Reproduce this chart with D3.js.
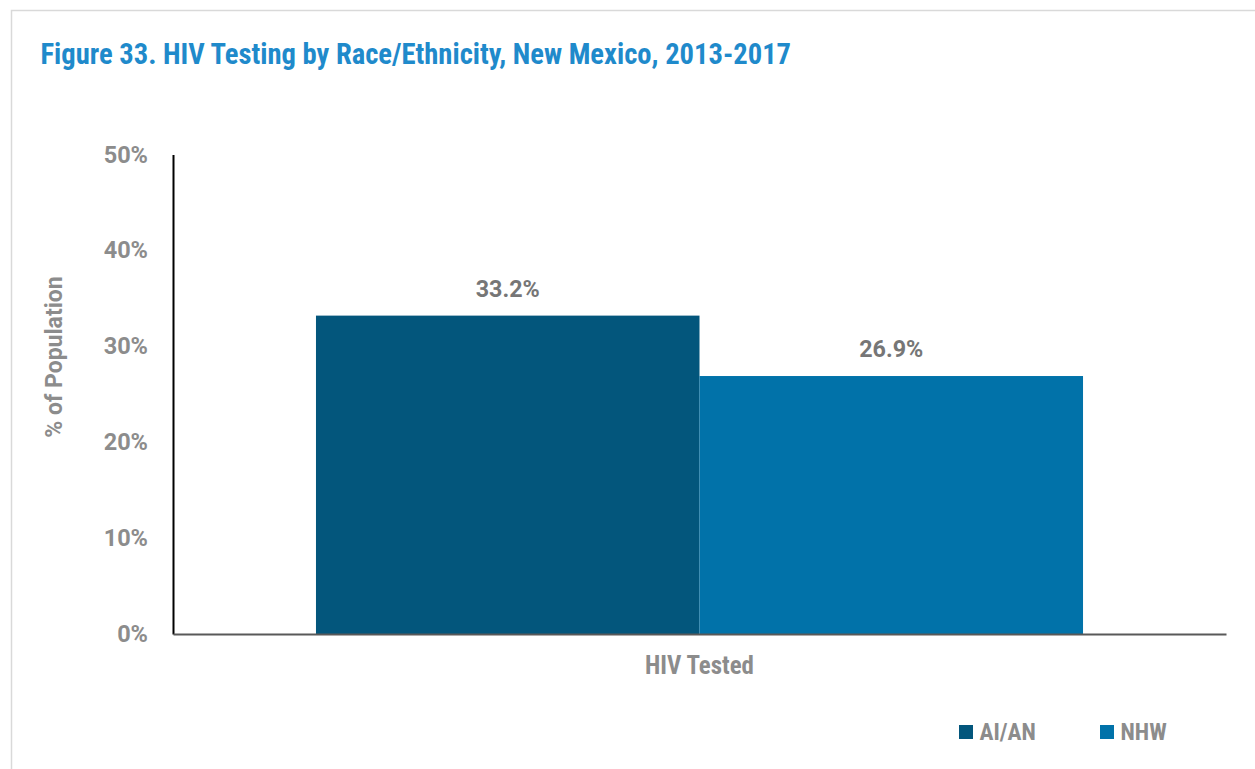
<!DOCTYPE html>
<html><head><meta charset="utf-8">
<script src="https://cdn.jsdelivr.net/npm/d3@7"></script>
<style>
html,body{margin:0;padding:0;background:#fff;}
svg{display:block;}
</style></head>
<body>
<script>
const title = "Figure 33. HIV Testing by Race/Ethnicity, New Mexico, 2013-2017";
const categories = ["HIV Tested"];
const seriesNames = ["AI/AN", "NHW"];
const seriesValues = [33.2, 26.9];
const seriesColors = ["#03567C", "#0172A9"];
const yTicks = [0, 10, 20, 30, 40, 50];
const yTitle = "% of Population";

const W = 1255, H = 769;
const COND = "'Roboto Condensed', Roboto, sans-serif";
const REG = "Roboto, 'Liberation Sans', sans-serif";
const svg = d3.select("body").append("svg").attr("width", W).attr("height", H);

svg.append("rect").attr("x", 11.5).attr("y", 10.5).attr("width", W).attr("height", H)
  .attr("fill", "#fff").attr("stroke", "#d9d9d9").attr("stroke-width", 1.5);

svg.append("text").attr("x", 40.5).attr("y", 64).attr("fill", "#1F8ACB")
  .style("font-family", COND).style("font-weight", "bold").style("font-size", "28.6px").text(title);

const pLeft = 173, pRight = 1226, pTop = 154.5, pBottom = 634;
const y = d3.scaleLinear().domain([0, 50]).range([pBottom, pTop]);
const x0 = d3.scaleBand().domain(categories).range([pLeft, pRight]).paddingInner(0).paddingOuter(0.1864);
const x1 = d3.scaleBand().domain(seriesNames).range([0, x0.bandwidth()]).padding(0);

const g = svg.append("g");
categories.forEach(c => {
  seriesNames.forEach((s, i) => {
    const v = seriesValues[i];
    g.append("rect").attr("x", x0(c) + x1(s)).attr("y", y(v))
      .attr("width", x1.bandwidth()).attr("height", y(0) - y(v)).attr("fill", seriesColors[i]);
    g.append("text").attr("x", x0(c) + x1(s) + x1.bandwidth() / 2).attr("y", y(v) - 19)
      .attr("text-anchor", "middle").attr("fill", "#767676")
      .style("font-family", REG).style("font-weight", "bold").style("font-size", "23.3px")
      .text(v.toFixed(1) + "%");
  });
});

// y axis
const yAxis = d3.axisLeft(y).tickValues(yTicks).tickSize(0).tickPadding(25).tickFormat(d => d + "%");
const ya = svg.append("g").attr("transform", `translate(${pLeft},0)`).call(yAxis);
ya.select(".domain").attr("stroke", "#000").attr("stroke-width", 2);
ya.selectAll("text").attr("fill", "#8c8c8c")
  .style("font-family", REG).style("font-weight", "bold").style("font-size", "23.5px");

// x axis
const xAxis = d3.axisBottom(x0).tickSize(0).tickPadding(22.5);
const xa = svg.append("g").attr("transform", `translate(0,${pBottom})`).call(xAxis);
xa.select(".domain").attr("stroke", "#595959").attr("stroke-width", 2);
xa.selectAll("text").attr("fill", "#8c8c8c")
  .style("font-family", COND).style("font-weight", "bold").style("font-size", "24.9px");

svg.append("text").attr("transform", `translate(62,357) rotate(-90)`)
  .attr("text-anchor", "middle").attr("fill", "#8c8c8c")
  .style("font-family", REG).style("font-weight", "bold").style("font-size", "23px").text(yTitle);

// legend
const legX = [959, 1100];
seriesNames.forEach((s, i) => {
  svg.append("rect").attr("x", legX[i]).attr("y", 725).attr("width", 14).attr("height", 14).attr("fill", seriesColors[i]);
  svg.append("text").attr("x", legX[i] + 20.5).attr("y", 740).attr("fill", "#8c8c8c")
    .style("font-family", COND).style("font-weight", "bold").style("font-size", "23.4px").text(s);
});
</script>
</body></html>
